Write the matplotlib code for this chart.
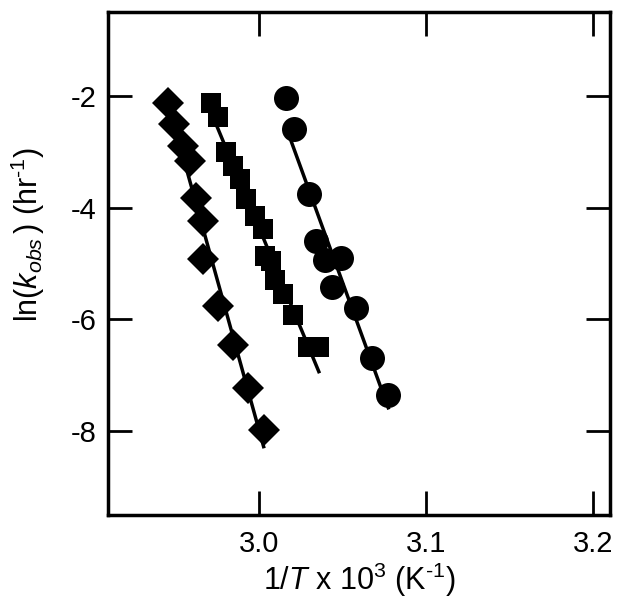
import matplotlib
matplotlib.use('Agg')
import matplotlib.pyplot as plt
import numpy as np

plt.rcParams['font.family'] = ['Liberation Sans', 'DejaVu Sans']
plt.rcParams['mathtext.fontset'] = 'custom'
plt.rcParams['mathtext.rm'] = 'Liberation Sans'
plt.rcParams['mathtext.it'] = 'Liberation Sans:italic'

# 1/T x 10^3 (K^-1) and ln(k_obs) for the three series
diamond_x = [2.9457, 2.9497, 2.9547, 2.9587, 2.9627, 2.9667, 2.9670, 2.9760, 2.9846, 2.9936, 3.0030]
diamond_y = [-2.13, -2.50, -2.90, -3.17, -3.82, -4.23, -4.92, -5.76, -6.46, -7.23, -7.97]

square_x = [2.9715, 2.9758, 2.9803, 2.9846, 2.9886, 2.9926, 2.9976, 3.0026, 3.0036, 3.0076,
            3.0096, 3.0146, 3.0206, 3.0297, 3.0360]
square_y = [-2.13, -2.37, -3.00, -3.25, -3.49, -3.85, -4.15, -4.38, -4.86, -4.95,
            -5.30, -5.54, -5.92, -6.49, -6.49]

circle_x = [3.0166, 3.0210, 3.0300, 3.0345, 3.0395, 3.0495, 3.0437, 3.0580, 3.0675, 3.0775]
circle_y = [-2.04, -2.59, -3.76, -4.59, -4.94, -4.90, -5.42, -5.80, -6.69, -7.35]

fig = plt.figure(figsize=(6.23, 6.06), dpi=100)
ax = fig.add_axes([0.1734, 0.150, 0.8056, 0.830])

series = [(diamond_x, diamond_y, 'D', 16),
          (square_x, square_y, 's', 15),
          (circle_x, circle_y, 'o', 18)]

for xs, ys, mk, ms in series:
    xs = np.array(xs)
    ys = np.array(ys)
    slope, icpt = np.polyfit(xs, ys, 1)
    xl = np.array([xs.min(), xs.max()])
    ax.plot(xl, slope * xl + icpt, color='black', lw=2.5, zorder=2)
    ax.plot(xs, ys, linestyle='none', marker=mk, ms=ms, color='black',
            markeredgewidth=0, zorder=3)

ax.set_xlim(2.91, 3.21)
ax.set_ylim(-9.5, -0.5)
ax.set_xticks([3.0, 3.1, 3.2])
ax.set_xticklabels(['3.0', '3.1', '3.2'])
ax.set_yticks([-8, -6, -4, -2])
ax.set_yticklabels(['-8', '-6', '-4', '-2'])

for sp in ax.spines.values():
    sp.set_linewidth(2.5)
ax.tick_params(direction='in', length=17, width=2, top=True, right=True,
               labelsize=21)
ax.tick_params(axis='x', pad=11)
ax.tick_params(axis='y', pad=8)

ax.set_xlabel(r'1/$\it{T}$ x 10$^3$ (K$^{\text{-1}}$)', fontsize=22, labelpad=2)
ax.set_ylabel(r'ln($\it{k}_{\it{obs}}\,$) (hr$^{\text{-1}}$)', fontsize=22)
ax.yaxis.set_label_coords(-0.122, 0.557)

fig.savefig('out.png', dpi=100)
